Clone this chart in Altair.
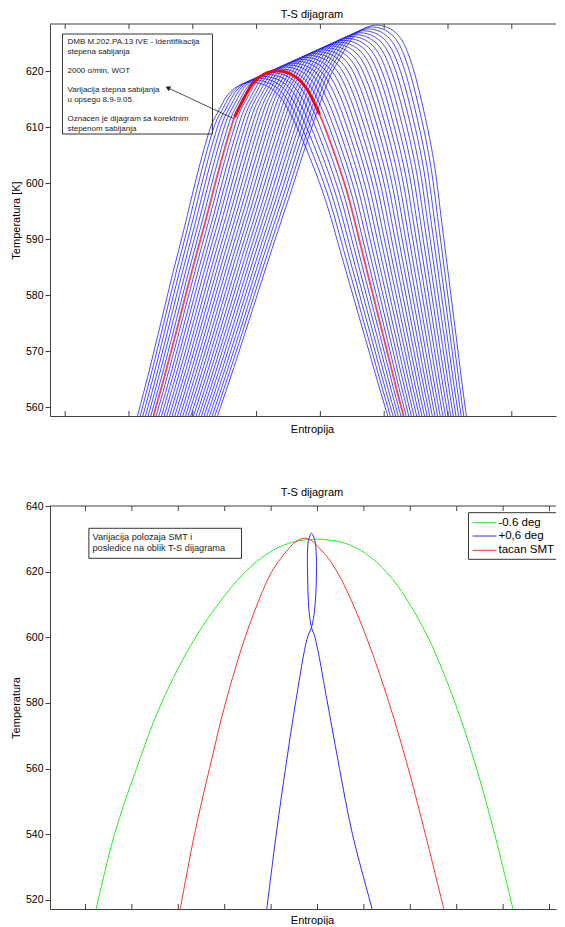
import altair as alt
import pandas as pd

FONT = "Liberation Sans"
AXIS_GREY = "#404040"

# ---------------- top panel: T-S loops for compression ratio 8.9 ... 9.05 ----------------
# reference loop (the highlighted, correct compression ratio)
base_S = [1.384, 1.588, 1.792, 1.995, 2.199, 2.403, 2.544, 2.654, 2.795,
          2.920, 3.045, 3.171, 3.312, 3.437, 3.563, 3.688, 3.798, 3.892, 3.986,
          4.080, 4.190, 4.315, 4.440, 4.629, 4.817, 5.005, 5.193, 5.303]
base_T = [558.39, 566.79, 575.71, 584.64, 593.21, 602.14, 607.86, 611.79, 615.00,
          617.50, 618.93, 619.73, 620.05, 619.86, 619.29, 618.21, 616.61, 614.64, 612.32,
          609.64, 606.25, 602.14, 597.50, 588.93, 580.36, 571.79, 563.21, 558.39]
PEAK_IDX = 12
T_FOOT = 558.39

compression = [8.900, 8.905, 8.910, 8.915, 8.920, 8.925, 8.930, 8.935, 8.940, 8.945,
               8.950, 8.955, 8.960, 8.965, 8.970, 8.975, 8.980, 8.985, 8.990, 8.995,
               9.000, 9.005, 9.010, 9.015, 9.020, 9.025, 9.030, 9.035, 9.040, 9.045, 9.050]
# per-loop displacement of the peak and of the two feet
peak_dS = [-0.392, -0.327, -0.261, -0.196, -0.131, -0.065, 0.000, 0.065, 0.131, 0.196,
           0.261, 0.327, 0.392, 0.457, 0.522, 0.588, 0.653, 0.718, 0.784, 0.849,
           0.914, 0.980, 1.045, 1.110, 1.175, 1.241, 1.306, 1.371, 1.436, 1.502, 1.567]
peak_dT = [-2.04, -1.70, -1.36, -1.02, -0.68, -0.34, 0.00, 0.34, 0.68, 1.02,
           1.36, 1.70, 2.04, 2.38, 2.72, 3.06, 3.40, 3.74, 4.08, 4.42,
           4.76, 5.10, 5.44, 5.78, 6.12, 6.46, 6.80, 7.14, 7.48, 7.82, 8.16]
footL_dS = [-0.251, -0.209, -0.167, -0.125, -0.084, -0.042, 0.000, 0.042, 0.084, 0.125,
            0.167, 0.209, 0.251, 0.293, 0.334, 0.376, 0.418, 0.460, 0.502, 0.543,
            0.585, 0.627, 0.669, 0.711, 0.752, 0.794, 0.836, 0.878, 0.920, 0.961, 1.003]
footR_dS = [-0.247, -0.206, -0.164, -0.123, -0.082, -0.041, 0.000, 0.041, 0.082, 0.123,
            0.164, 0.206, 0.247, 0.288, 0.329, 0.370, 0.411, 0.452, 0.493, 0.534,
            0.575, 0.617, 0.658, 0.699, 0.740, 0.781, 0.822, 0.863, 0.904, 0.945, 0.986]
RED_EPS = 8.930
RED_THICK_ABOVE = 611.5

top_ticks_S = [0, 1, 2, 3, 4, 5, 6, 7]
top_ticks_T = [560, 570, 580, 590, 600, 610, 620]

note_top_lines = ["DMB M.202.PA.13 IVE - Identifikacija", "stepena sabijanja",
                  "2000 o/min, WOT", "Varijacija stepna sabijanja", "u opsegu 8.9-9.05.",
                  "Oznacen je dijagram sa korektnim", "stepenom sabijanja"]
note_top_T = [625.13, 623.41, 619.98, 616.55, 614.84, 611.41, 609.70]
note_top_S = 0.036
note_top_box = {"S": -0.042, "S2": 2.309, "T": 608.75, "T2": 626.61}
arrow_tip = (1.619, 616.96)
arrow_tail = (2.640, 611.50)

# ---------------- bottom panel: TDC position variation ----------------
green_S = [0.229, 0.625, 1.099, 1.638, 2.371, 3.073, 3.448, 3.776, 4.103, 4.468, 4.978,
           5.517, 5.869, 6.181, 6.478, 6.812, 7.381, 7.966, 8.429, 8.819, 9.213]
green_T = [517.2, 540, 560, 580, 600, 614, 620, 624, 627, 629, 629.9,
           629, 627, 624, 620, 614, 600, 580, 560, 540, 517.2]
red_S = [2.041, 2.349, 2.672, 3.017, 3.440, 3.815, 4.015, 4.207, 4.379, 4.534, 4.733,
         4.899, 5.052, 5.237, 5.420, 5.640, 6.056, 6.543, 6.957, 7.325, 7.722]
red_T = [517.2, 540, 560, 580, 600, 614, 620, 624, 627, 629.2, 630.2,
         629.2, 627, 624, 620, 614, 600, 580, 560, 540, 517.2]
blue_S = [3.907, 4.110, 4.310, 4.526, 4.784, 4.871, 4.935, 4.966, 4.978, 4.970, 4.942,
          4.871, 4.806, 4.784, 4.784, 4.795, 4.817, 4.871, 4.946, 5.216, 5.474, 5.754, 6.179]
blue_T = [517.2, 540, 560, 580, 600, 603, 608, 614, 620, 626, 629.5,
          631.7, 629.5, 626, 620, 614, 608, 603, 600, 580, 560, 540, 517.2]

series_names = ["-0.6 deg", "+0,6 deg", "tacan SMT"]
series_colors = ["#22ee22", "#2a2aff", "#ff3030"]

bot_ticks_S = [0, 1, 2, 3, 4, 5, 6, 7, 8, 9, 10]
bot_ticks_T = [520, 540, 560, 580, 600, 620, 640]

note_bot_lines = ["Varijacija polozaja SMT i", "posledice na oblik T-S dijagrama"]
note_bot_T = [630.56, 627.12]
note_bot_S = 0.151
note_bot_box = {"S": 0.073, "S2": 3.362, "T": 624.07, "T2": 633.21}

legend_T = [634.91, 630.86, 626.51]
legend_line_S = (8.341, 8.858)
legend_text_S = 8.901
legend_box = {"S": 8.254, "T": 623.77, "T2": 637.96}

# ---------------- geometry ----------------
W = 506
H_TOP = 392
H_BOT = 403
TOP_DOM_S = [-0.238, 7.693]
TOP_DOM_T = [558.4, 628.4]
BOT_DOM_S = [-0.765, 10.140]
BOT_DOM_T = [517.25, 640]

# ---------------- build tables ----------------
rows = []
Tp = base_T[PEAK_IDX]
for i, eps in enumerate(compression):
    for j, (s, t) in enumerate(zip(base_S, base_T)):
        h = (t - T_FOOT) / (Tp - T_FOOT)
        dF = footL_dS[i] if j <= PEAK_IDX else footR_dS[i]
        rows.append({"eps": eps, "j": j,
                     "S": s + dF + h * (peak_dS[i] - dF),
                     "T": T_FOOT + h * (Tp - T_FOOT + peak_dT[i])})
top_df = pd.DataFrame(rows)


def xenc(field, dom, pad):
    return alt.X(f"{field}:Q", scale=alt.Scale(domain=dom, nice=False, zero=False),
                 axis=alt.Axis(title="Entropija", labels=False, ticks=False, grid=False,
                               titlePadding=pad, titleX=W / 2 + 9))


def yenc(field, dom, title, values):
    return alt.Y(f"{field}:Q", scale=alt.Scale(domain=dom, nice=False, zero=False),
                 axis=alt.Axis(title=title, values=values, tickSize=5, labelPadding=2,
                               titlePadding=4, grid=False))


top_x = xenc("S", TOP_DOM_S, 7)
top_y = yenc("T", TOP_DOM_T, "Temperatura [K]", top_ticks_T)

blue_loops = alt.Chart(top_df).mark_line(color="#1010ff", strokeWidth=0.75, clip=True,
                                         interpolate="monotone").encode(
    x=top_x, y=top_y, detail="eps:N", order="j:Q")
red_loop = alt.Chart(top_df).transform_filter(alt.datum.eps == RED_EPS).mark_line(
    color="#ff4545", strokeWidth=1.9, opacity=0.85, clip=True, interpolate="monotone").encode(
    x=top_x, y=top_y, order="j:Q")
red_top = alt.Chart(top_df).transform_filter(
    (alt.datum.eps == RED_EPS) & (alt.datum.T > RED_THICK_ABOVE)).mark_line(
    color="#ff0000", strokeWidth=3, clip=True, interpolate="monotone").encode(
    x=top_x, y=top_y, order="j:Q")

box_top = alt.Chart(pd.DataFrame([note_top_box])).mark_rect(
    fill=None, stroke="#333333", strokeWidth=1).encode(x=top_x, x2="S2:Q", y=top_y, y2="T2:Q")
text_top = alt.Chart(pd.DataFrame({"S": [note_top_S] * len(note_top_lines), "T": note_top_T,
                                   "txt": note_top_lines})).mark_text(
    align="left", baseline="middle", fontSize=8, font=FONT, color="#222222").encode(
    x=top_x, y=top_y, text="txt:N")
arrow_df = pd.DataFrame({"S": [arrow_tail[0], arrow_tip[0]], "T": [arrow_tail[1], arrow_tip[1]], "k": [0, 1]})
arrow_line = alt.Chart(arrow_df).mark_line(color="#222222", strokeWidth=0.8).encode(
    x=top_x, y=top_y, order="k:Q")
arrow_head = alt.Chart(pd.DataFrame({"S": [arrow_tip[0]], "T": [arrow_tip[1]]})).mark_point(
    shape="triangle", filled=True, size=30, angle=296, color="#222222", opacity=1).encode(x=top_x, y=top_y)

tick_top_df = pd.DataFrame({"S": top_ticks_S})
ticks_top_a = alt.Chart(tick_top_df).mark_rule(color=AXIS_GREY).encode(
    x=top_x, y=alt.value(0), y2=alt.value(5))
ticks_top_b = alt.Chart(tick_top_df).mark_rule(color=AXIS_GREY).encode(
    x=top_x, y=alt.value(H_TOP - 5), y2=alt.value(H_TOP))
border_top = alt.Chart(tick_top_df.head(1)).mark_rule(color=AXIS_GREY).encode(
    x=alt.value(0), x2=alt.value(W), y=alt.value(0))

top = alt.layer(blue_loops, red_loop, red_top, box_top, text_top, arrow_line, arrow_head,
                ticks_top_a, ticks_top_b, border_top).properties(
    width=W, height=H_TOP,
    title=alt.TitleParams("T-S dijagram", fontSize=11, fontWeight="normal", font=FONT, offset=4, dx=9))

# bottom
bot_rows = []
for name, S_list, T_list in [(series_names[0], green_S, green_T),
                             (series_names[1], blue_S, blue_T),
                             (series_names[2], red_S, red_T)]:
    for k, (s, t) in enumerate(zip(S_list, T_list)):
        bot_rows.append({"series": name, "k": k, "S": s, "T": t})
bot_df = pd.DataFrame(bot_rows)

bot_x = xenc("S", BOT_DOM_S, 5)
bot_x_txt = xenc("St", BOT_DOM_S, 5)
bot_y = yenc("T", BOT_DOM_T, "Temperatura", bot_ticks_T)
bot_y_top = yenc("T2", BOT_DOM_T, "Temperatura", bot_ticks_T)
color_enc = alt.Color("series:N", scale=alt.Scale(domain=series_names, range=series_colors), legend=None)

curves = alt.Chart(bot_df).mark_line(strokeWidth=1, clip=True, interpolate="catmull-rom").encode(
    x=bot_x, y=bot_y, color=color_enc, detail="series:N", order="k:Q")

box_bot = alt.Chart(pd.DataFrame([note_bot_box])).mark_rect(
    fill="white", stroke="#333333", strokeWidth=1).encode(x=bot_x, x2="S2:Q", y=bot_y, y2="T2:Q")
text_bot = alt.Chart(pd.DataFrame({"S": [note_bot_S] * 2, "T": note_bot_T, "txt": note_bot_lines})).mark_text(
    align="left", baseline="middle", fontSize=9.2, font=FONT, color="#222222").encode(
    x=bot_x, y=bot_y, text="txt:N")

lb = pd.DataFrame([{"S": legend_box["S"], "S2": BOT_DOM_S[1], "T": legend_box["T"], "T2": legend_box["T2"]}])
leg_fill = alt.Chart(lb).mark_rect(fill="white").encode(x=bot_x, x2="S2:Q", y=bot_y, y2="T2:Q")
leg_edge_top = alt.Chart(lb).mark_rule(color="#333333").encode(x=bot_x, x2="S2:Q", y=bot_y_top)
leg_edge_bot = alt.Chart(lb).mark_rule(color="#333333").encode(x=bot_x, x2="S2:Q", y=bot_y)
leg_edge_left = alt.Chart(lb).mark_rule(color="#333333").encode(x=bot_x, y=bot_y, y2="T2:Q")
leg_df = pd.DataFrame({"series": series_names, "S": [legend_line_S[0]] * 3, "S2": [legend_line_S[1]] * 3,
                       "T": legend_T, "St": [legend_text_S] * 3})
leg_lines = alt.Chart(leg_df).mark_rule(strokeWidth=1).encode(x=bot_x, x2="S2:Q", y=bot_y, color=color_enc)
leg_text = alt.Chart(leg_df).mark_text(align="left", baseline="middle", fontSize=11.5, font=FONT,
                                       color="black").encode(x=bot_x_txt, y=bot_y, text="series:N")

tick_bot_df = pd.DataFrame({"S": bot_ticks_S})
ticks_bot_a = alt.Chart(tick_bot_df).mark_rule(color=AXIS_GREY).encode(
    x=bot_x, y=alt.value(0), y2=alt.value(5))
ticks_bot_b = alt.Chart(tick_bot_df).mark_rule(color=AXIS_GREY).encode(
    x=bot_x, y=alt.value(H_BOT - 5), y2=alt.value(H_BOT))
border_bot = alt.Chart(tick_bot_df.head(1)).mark_rule(color=AXIS_GREY).encode(
    x=alt.value(0), x2=alt.value(W), y=alt.value(0))

bottom = alt.layer(curves, box_bot, text_bot, leg_fill, leg_edge_top, leg_edge_bot, leg_edge_left,
                   leg_lines, leg_text, ticks_bot_a, ticks_bot_b, border_bot).properties(
    width=W, height=H_BOT,
    title=alt.TitleParams("T-S dijagram", fontSize=11, fontWeight="normal", font=FONT, offset=3, dx=9))

chart = alt.vconcat(top, bottom, spacing=53).configure(
    font=FONT, padding={"left": 2, "top": 0, "right": 0, "bottom": 0}
).configure_view(stroke=None).configure_axis(
    domainColor=AXIS_GREY, tickColor=AXIS_GREY, labelColor="black", titleColor="black",
    labelFont=FONT, titleFont=FONT, labelFontSize=10.5, titleFontSize=11, titleFontWeight="normal"
).configure_title(font=FONT, fontSize=11, fontWeight="normal", color="black")

chart.save("out.html", embed_options={"renderer": "svg", "actions": False})
